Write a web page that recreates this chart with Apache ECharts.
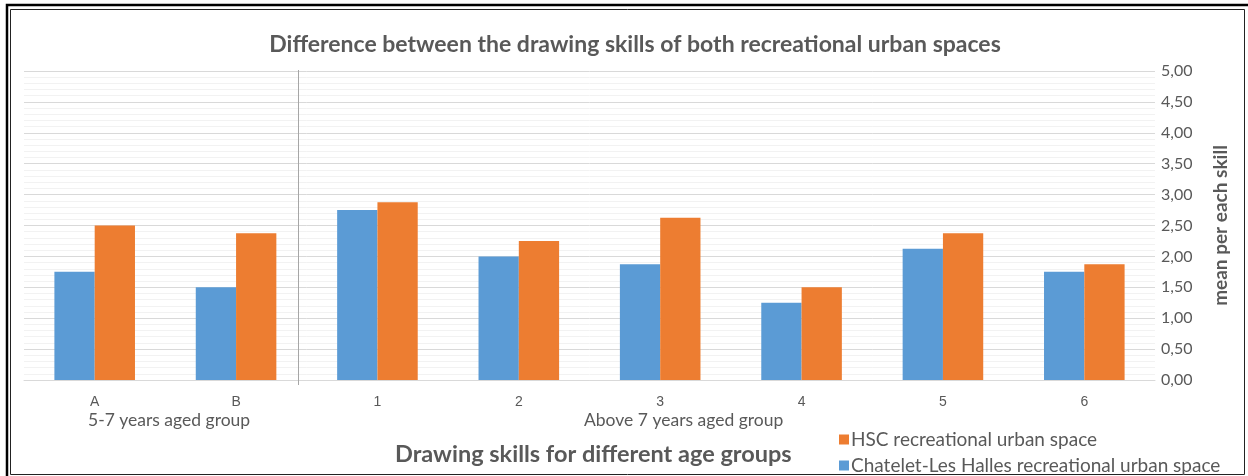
<!DOCTYPE html>
<html>
<head>
<meta charset="utf-8">
<title>Drawing skills</title>
<script src="https://cdn.jsdelivr.net/npm/echarts@6/dist/echarts.min.js"></script>
<style>
  html, body { margin: 0; padding: 0; background: #fff; }
  #chart { width: 1248px; height: 476px; }
</style>
</head>
<body>
<div id="chart"></div>
<script>
// categories (first level) and the two groups under them
const skills = ["A", "B", "1", "2", "3", "4", "5", "6"];
const groupLabels = ["5-7 years aged group", "Above 7 years aged group"];

// mean per skill
const chateletValues = [1.75, 1.5, 2.75, 2.0, 1.875, 1.25, 2.125, 1.75];
const hscValues = [2.5, 2.375, 2.875, 2.25, 2.625, 1.5, 2.375, 1.875];

const seriesNames = ["Chatelet-Les Halles recreational urban space", "HSC recreational urban space"];

const textGrey = "#595959";

const chart = echarts.init(document.getElementById("chart"));

// one legend per row, the way the original stacks them
function legendRow(name, top) {
  return {
    data: [name],
    left: 834,
    top: top,
    itemWidth: 10,
    itemHeight: 10,
    icon: "rect",
    textStyle: {
      fontFamily: "Lato",
      fontSize: 19,
      color: textGrey,
      padding: [0, 0, 0, -3],
    },
  };
}

const option = {
  animation: false,
  backgroundColor: "#fff",
  title: {
    text: "Difference between the drawing skills of both recreational urban spaces",
    left: 630,
    textAlign: "center",
    top: 28,
    textStyle: {
      fontFamily: "Lato",
      fontWeight: "bold",
      fontSize: 23,
      color: textGrey,
    },
  },
  legend: [legendRow(seriesNames[1], 425), legendRow(seriesNames[0], 451)],
  grid: {
    left: 24,
    right: 93,
    top: 71,
    bottom: 96,
  },
  xAxis: {
    type: "category",
    data: skills,
    axisLine: { lineStyle: { color: "#d9d9d9" } },
    axisTick: { show: false },
    axisLabel: {
      margin: 15,
      fontFamily: "Liberation Sans",
      fontSize: 14,
      color: textGrey,
    },
  },
  yAxis: {
    type: "value",
    position: "right",
    min: 0,
    max: 5,
    interval: 0.5,
    name: "mean per each skill",
    nameLocation: "middle",
    nameGap: 56,
    nameRotate: 90,
    nameTextStyle: {
      fontFamily: "Lato",
      fontWeight: "bold",
      fontSize: 19,
      color: textGrey,
    },
    axisLine: { show: false },
    axisTick: { show: false },
    axisLabel: {
      margin: 6,
      fontFamily: "Lato",
      fontSize: 16,
      color: textGrey,
      formatter: (v) => v.toFixed(2).replace(".", ","),
    },
    splitLine: { lineStyle: { color: "#d9d9d9" } },
    minorTick: { show: false, splitNumber: 5 },
    minorSplitLine: { show: true, lineStyle: { color: "#f2f2f2" } },
  },
  series: [
    {
      name: seriesNames[0],
      type: "bar",
      data: chateletValues,
      barGap: "0%",
      barCategoryGap: "43%",
      itemStyle: { color: "#5b9bd5" },
    },
    {
      name: seriesNames[1],
      type: "bar",
      data: hscValues,
      barGap: "0%",
      barCategoryGap: "43%",
      itemStyle: { color: "#ed7d31" },
    },
  ],
  graphic: [
    // group labels under the categories
    {
      type: "text",
      left: 88,
      top: 411,
      style: { text: groupLabels[0], font: "17.5px Lato", fill: textGrey },
    },
    {
      type: "text",
      left: 584,
      top: 411,
      style: { text: groupLabels[1], font: "17.5px Lato", fill: textGrey },
    },
    {
      type: "text",
      left: 395,
      top: 442,
      style: {
        text: "Drawing skills for different age groups",
        font: "bold 23.5px Lato",
        fill: textGrey,
      },
    },
    // separator between the two age groups
    {
      type: "line",
      z: 10,
      shape: { x1: 298.5, y1: 70, x2: 298.5, y2: 385 },
      style: { stroke: "#a6a6a6", lineWidth: 1 },
    },
    // frame
    {
      type: "polyline",
      shape: { points: [[7, 476], [7, 5], [1248, 5]] },
      style: { stroke: "#000", lineWidth: 2.5, fill: null },
    },
    {
      type: "rect",
      shape: { x: 10.5, y: 9.5, width: 1234, height: 465 },
      style: { stroke: "#222", lineWidth: 1, fill: null },
      silent: true,
    },
  ],
};

chart.setOption(option);
</script>
</body>
</html>
